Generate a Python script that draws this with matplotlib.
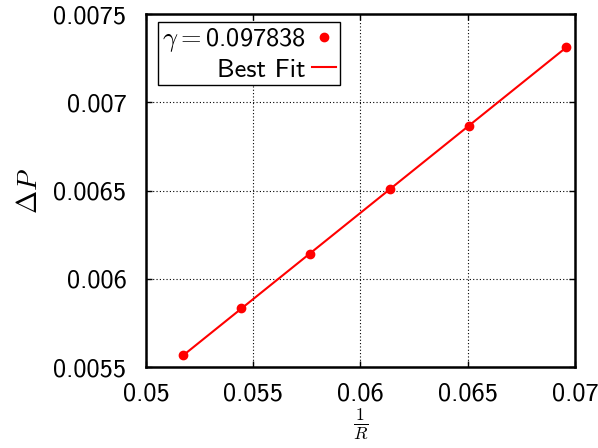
import numpy as np
import matplotlib
matplotlib.use("Agg")
import matplotlib.pyplot as plt

plt.rcParams['font.family'] = ['cmss10', 'DejaVu Sans']
plt.rcParams['mathtext.fontset'] = 'cm'

# data
inv_r = [0.05173, 0.05445, 0.05766, 0.06138, 0.06507, 0.06957]
delta_p = [0.005568, 0.005833, 0.006139, 0.006509, 0.006867, 0.007311]
gamma_label = r'$\gamma=$0.097838'
fit_label = 'Best Fit'

x = np.array(inv_r)
y = np.array(delta_p)
slope, icpt = np.polyfit(x, y, 1)

fig = plt.figure(figsize=(5.98, 4.48), dpi=100)
ax = fig.add_axes([0.2441, 0.1808, 0.9615 - 0.2441, 0.96875 - 0.1808])

ax.plot(x, y, 'o', color='red', markersize=6, label=gamma_label, zorder=3)
ax.plot(x, slope * x + icpt, '-', color='red', linewidth=1.5, label=fit_label, zorder=2)

ax.set_xlim(0.05, 0.07)
ax.set_ylim(0.0055, 0.0075)
ax.set_xticks([0.05, 0.055, 0.06, 0.065, 0.07])
ax.set_xticklabels(['0.05', '0.055', '0.06', '0.065', '0.07'])
ax.set_yticks([0.0055, 0.006, 0.0065, 0.007, 0.0075])
ax.set_yticklabels(['0.0055', '0.006', '0.0065', '0.007', '0.0075'])

ax.grid(True, color='black', linestyle=(0, (1, 2)), linewidth=0.8)
ax.tick_params(direction='in', top=True, right=True, length=4, width=1,
               labelsize=19)
ax.tick_params(axis='y', pad=14)
ax.tick_params(axis='x', pad=11)
for s in ax.spines.values():
    s.set_linewidth(1.8)

ax.set_xlabel(r'$\frac{1}{R}$', fontsize=18, labelpad=1)
ax.set_ylabel(r'$\Delta P$', fontsize=20, labelpad=8)

leg = ax.legend(loc='upper left', bbox_to_anchor=(0.027, 0.977), markerfirst=False,
                fontsize=19, fancybox=False, framealpha=1, edgecolor='black',
                handlelength=0.9, handletextpad=0.25, borderpad=0.15,
                labelspacing=0.15, borderaxespad=0)
leg.get_frame().set_linewidth(1.0)

plt.savefig('out.png', dpi=100)
